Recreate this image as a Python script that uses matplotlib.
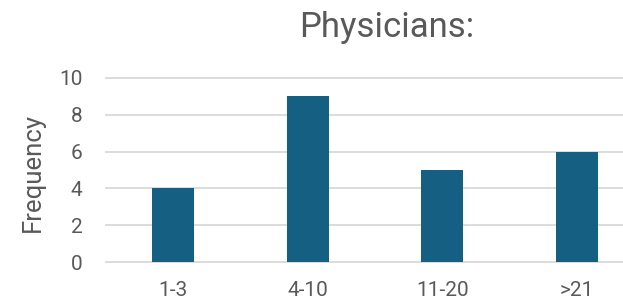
import matplotlib
matplotlib.use("Agg")
import matplotlib.pyplot as plt

categories = ["1-3", "4-10", "11-20", ">21"]
values = [4, 9, 5, 6]
title = "Physicians:"

plt.rcParams['font.family'] = ['Roboto', 'DejaVu Sans']
txt = '#595959'

fig = plt.figure(figsize=(6.23, 3.03), dpi=100)
ax = fig.add_axes([106/623, 1-262/303, 1-106/623, (262-78)/303])

x = range(len(categories))
ax.bar(x, values, width=0.31, color='#156082', zorder=3)
ax.set_xlim(-0.5, (623-106)/134.5 - 0.5)
ax.set_ylim(0, 10)
ax.set_yticks(range(0, 11, 2))
ax.set_xticks(list(x))
ax.set_xticklabels(categories)
ax.yaxis.grid(True, color='#D9D9D9', linewidth=1.3, zorder=0)
for g in ax.get_ygridlines():
    g.set_clip_on(False)
for s in ax.spines.values():
    s.set_visible(False)
ax.tick_params(length=0, colors=txt)
ax.tick_params(axis='x', labelsize=15, pad=14)
ax.tick_params(axis='y', labelsize=15, pad=17)
fig.text(33/623, 1-172/303, "Frequency", fontsize=18.5, color=txt,
         rotation=90, ha='center', va='center')
fig.text(387/623, 1-27/303, title, fontsize=25, color=txt, ha='center', va='center')

plt.savefig("out.png", dpi=100)
